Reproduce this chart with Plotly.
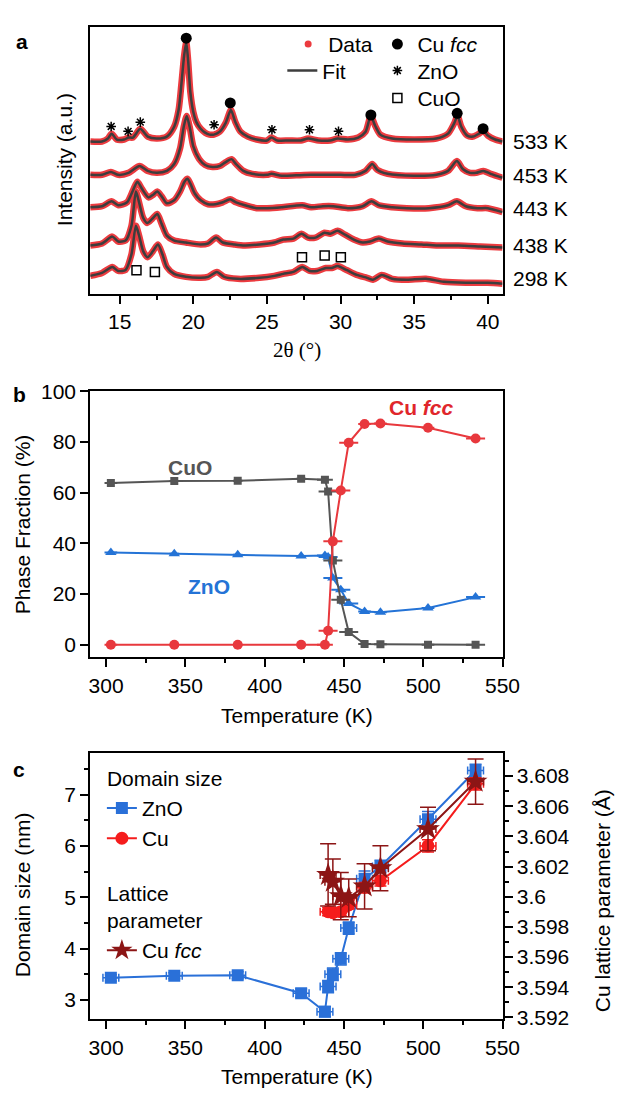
import plotly.graph_objects as go

# ---------------- Panel a : XRD patterns ----------------
# intensity values are in a.u. above each pattern's own baseline
pattern_labels = ["533 K", "453 K", "443 K", "438 K", "298 K"]
pattern_offsets = [155, 120, 87, 49, 15]

tt_533 = [13.0, 13.8, 14.2, 14.45, 14.8, 15.3, 15.6, 15.9, 16.4, 16.9, 17.5, 18.2, 18.7, 19.0, 19.2,
          19.38, 19.52, 19.65, 19.8, 20.0, 20.2, 20.5, 20.8, 21.1, 21.4, 21.8, 22.2, 22.55, 22.85,
          23.2, 23.7, 24.3, 25.0, 25.3, 25.7, 26.5, 27.3, 27.8, 28.5, 29.3, 29.8, 30.5, 31.2, 31.7,
          32.05, 32.35, 32.7, 33.5, 35.0, 36.5, 37.3, 37.7, 37.95, 38.2, 38.6, 39.0, 39.4, 39.7,
          40.0, 40.5, 41.0]
int_533 = [0, 0, 3, 8, 2, 2, 4, 4, 13, 5, 3, 5, 15, 32, 60,
           88, 101, 82, 50, 30, 20, 13, 9, 7, 7, 10, 19, 32, 20,
           10, 5, 2, 1, 4, 1, 1, 1, 3, 1, 1, 3, 2, 4, 10,
           26, 16, 7, 3, 2, 3, 8, 18, 26, 15, 6, 5, 8, 11,
           6, 2, 0]

tt_453 = [13.0, 13.8, 14.4, 14.9, 15.6, 16.35, 16.9, 17.5, 18.2, 18.7, 19.1, 19.35, 19.55, 19.75,
          20.0, 20.4, 20.8, 21.3, 21.8, 22.2, 22.6, 22.9, 23.4, 24.0, 25.0, 25.3, 26.0, 27.0, 28.0,
          29.0, 30.0, 31.0, 31.7, 32.15, 32.5, 33.2, 35.0, 36.5, 37.3, 37.9, 38.3, 38.8, 39.2,
          39.7, 40.2, 41.0]
int_453 = [1, 1, 4, 1, 3, 10, 5, 3, 5, 12, 28, 50, 61, 50,
           30, 17, 11, 9, 10, 14, 17, 12, 5, 2, 1, 2, 0, 0.5, 1,
           1, 1, 1, 5, 12, 6, 2, 0, 1, 5, 15, 7, 3, 3,
           5, 2, -2]

tt_443 = [13.0, 13.8, 14.45, 14.9, 15.5, 15.9, 16.2, 16.5, 16.95, 17.3, 17.55, 17.85, 18.2, 18.7,
          19.1, 19.4, 19.6, 19.8, 20.1, 20.5, 21.0, 21.5, 22.0, 22.5, 22.9, 23.5, 24.3, 25.0, 26.0,
          27.4, 28.0, 28.8, 29.5, 30.5, 31.5, 32.1, 32.6, 33.5, 34.5, 36.0, 37.3, 37.9, 38.5, 39.3,
          40.0, 41.0]
int_443 = [1, 2, 7, 3, 6, 18, 27, 20, 11, 14, 17, 12, 5, 8,
           17, 27, 30, 25, 15, 8, 4, 4, 6, 9, 6, 3, 0, 0, 1,
           3, 1, 2, 2, 0, 2, 7, 3, 1, 0, 0, 3, 7, 2, 0,
           0, -4]

tt_438 = [13.0, 13.8, 14.5, 14.9, 15.4, 15.8, 16.1, 16.3, 16.6, 16.87, 17.2, 17.55, 17.85, 18.2,
          18.7, 19.5, 20.5, 21.0, 21.55, 22.0, 22.8, 23.5, 24.5, 25.5, 26.1, 26.8, 27.35, 27.8,
          28.3, 28.9, 29.3, 29.8, 30.3, 30.9, 31.5, 32.0, 32.6, 33.2, 34.2, 35.5, 36.5, 38.0,
          39.5, 41.0]
int_438 = [0, 2, 9, 4, 5, 20, 55, 45, 28, 23, 27, 32, 22, 10,
           5, 3, 1, 2, 8, 3, 1, 0, 1, 3, 6, 7, 12, 8,
           8, 13, 12, 15, 11, 6, 3, 4, 7, 4, 2, 1, 0, 0,
           -1, -2]

tt_298 = [13.0, 13.8, 14.5, 14.9, 15.4, 15.8, 16.1, 16.3, 16.6, 16.9, 17.25, 17.6, 17.9, 18.2,
          18.7, 19.5, 20.5, 21.0, 21.6, 22.1, 23.0, 24.5, 25.5, 26.1, 26.8, 27.4, 27.9, 28.4,
          29.0, 29.4, 29.8, 30.4, 31.1, 31.8, 32.2, 32.8, 33.5, 34.5, 35.8, 37.0, 38.5, 40.0, 41.0]
int_298 = [3, 6, 12, 8, 9, 25, 54, 45, 28, 22, 28, 35, 25, 12,
           5, 2, 1, 2, 7, 2, 0, 1, 3, 5, 7, 12, 8, 8,
           11, 11, 13, 9, 4, 1, -1, 4, 0, -1, 0, -3, -4, -4, -5]

# phase marks (a.u. above the 533 K baseline for Cu/ZnO, above the 298 K baseline for CuO)
cu_mark_tt = [19.52, 22.51, 32.06, 37.92, 39.68]
cu_mark_int = [105.3, 39.3, 27, 28.7, 13]
zno_mark_tt = [14.42, 15.57, 16.40, 21.41, 25.34, 27.89, 29.86]
zno_mark_int = [15.3, 10.3, 19.7, 17, 12, 12, 10.3]
cuo_mark_tt = [16.14, 17.39, 27.38, 28.92, 30.02]
cuo_mark_int = [8.7, 7, 22, 23.7, 22]

# ---------------- Panel b : phase fractions ----------------
temp_b = [303, 343, 383, 423, 438, 440, 443, 448, 453, 463, 473, 503, 533]
temp_b_err = [4, 3, 3, 3, 5, 6, 6, 6, 6, 4, 4, 4, 6]
cu_fcc_frac = [0, 0, 0, 0, 0, 5.5, 40.8, 60.9, 79.7, 87.1, 87.3, 85.6, 81.4]
cuo_frac = [63.8, 64.6, 64.7, 65.5, 65.1, 60.5, 33.2, 17.8, 5.0, 0.3, 0.2, 0, 0]
zno_frac = [36.4, 35.9, 35.5, 35.0, 35.2, 34.6, 26.3, 21.7, 16.3, 13.1, 12.8, 14.5, 18.8]

# ---------------- Panel c : domain size & lattice parameter ----------------
temp_c_zno = [303, 343, 383, 423, 438, 440, 443, 448, 453, 463, 473, 503, 533]
zno_size = [3.43, 3.47, 3.48, 3.13, 2.77, 3.26, 3.50, 3.80, 4.40, 5.36, 5.60, 6.52, 7.47]
zno_size_err = [0.06, 0.06, 0.07, 0.08, 0.1, 0.12, 0.12, 0.12, 0.12, 0.15, 0.12, 0.15, 0.12]
temp_c_cu = [440, 443, 448, 453, 463, 473, 503, 533]
cu_size = [4.72, 4.70, 4.72, 4.85, 5.19, 5.32, 6.00, 7.21]
cu_size_err = [0.08, 0.08, 0.08, 0.08, 0.1, 0.1, 0.12, 0.12]
cu_latt = [3.60145, 3.6010, 3.60004, 3.59993, 3.60069, 3.60189, 3.60449, 3.60764]
cu_latt_err = [0.00206, 0.0015, 0.00157, 0.00125, 0.0015, 0.0015, 0.00144, 0.0015]
temp_c_err = 5

# ---------------- styling ----------------
FONT = "Liberation Sans, Arial, sans-serif"
FS = 21
RED_DATA = "#ec3b3f"
FIT = "#3d3d3d"
RED_B = "#e8383d"
GREY_B = "#555555"
BLUE_B = "#2473d6"
BLUE_C = "#2a70d8"
RED_C = "#f51c1c"
DARK_RED = "#8c1515"

W, H = 635, 1099
def px_x(p):
    return p / W
def px_y(p):
    return 1 - p / H

fig = go.Figure()

# panel a patterns
patterns = [(tt_533, int_533), (tt_453, int_453), (tt_443, int_443), (tt_438, int_438), (tt_298, int_298)]
for (tt, it), off in zip(patterns, pattern_offsets):
    yy = [v + off for v in it]
    fig.add_trace(go.Scatter(x=tt, y=yy, mode="lines", line=dict(color=RED_DATA, width=6.5, shape="spline", smoothing=0.7),
                             showlegend=False, xaxis="x", yaxis="y", hoverinfo="skip"))
for (tt, it), off in zip(patterns, pattern_offsets):
    yy = [v + off for v in it]
    fig.add_trace(go.Scatter(x=tt, y=yy, mode="lines", line=dict(color=FIT, width=2.5, shape="spline", smoothing=0.7),
                             showlegend=False, xaxis="x", yaxis="y", hoverinfo="skip"))

# legend entries (panel a), one legend per entry for exact placement
fig.add_trace(go.Scatter(x=[None], y=[None], mode="markers", marker=dict(color=RED_DATA, size=7),
                         name="Data", legend="legend", xaxis="x", yaxis="y"))
fig.add_trace(go.Scatter(x=[None], y=[None], mode="lines", line=dict(color=FIT, width=2.5),
                         name="Fit", legend="legend2", xaxis="x", yaxis="y"))

fig.add_trace(go.Scatter(x=cu_mark_tt, y=[v + pattern_offsets[0] for v in cu_mark_int], mode="markers",
                         marker=dict(color="black", size=11, symbol="circle"),
                         name="Cu <i>fcc</i>", legend="legend3", xaxis="x", yaxis="y"))
fig.add_trace(go.Scatter(x=zno_mark_tt, y=[v + pattern_offsets[0] for v in zno_mark_int], mode="markers",
                         marker=dict(color="black", size=8, symbol="asterisk-open", line=dict(color="black", width=1.5)),
                         name="ZnO", legend="legend4", xaxis="x", yaxis="y"))
fig.add_trace(go.Scatter(x=cuo_mark_tt, y=[v + pattern_offsets[4] for v in cuo_mark_int], mode="markers",
                         marker=dict(color="black", size=9, symbol="square-open", line=dict(color="black", width=1.5)),
                         name="CuO", legend="legend5", xaxis="x", yaxis="y"))

# panel b
for vals, col, sym, sz in [(zno_frac, BLUE_B, "triangle-up", 10), (cuo_frac, GREY_B, "square", 8),
                           (cu_fcc_frac, RED_B, "circle", 10)]:
    fig.add_trace(go.Scatter(x=temp_b, y=vals, mode="lines+markers",
                             line=dict(color=col, width=2), marker=dict(color=col, size=sz, symbol=sym),
                             error_x=dict(type="data", array=temp_b_err, color=col, thickness=2, width=0),
                             showlegend=False, xaxis="x2", yaxis="y2"))

# panel c
fig.add_trace(go.Scatter(x=temp_c_zno, y=zno_size, mode="lines+markers", name="ZnO",
                         line=dict(color=BLUE_C, width=2), marker=dict(color=BLUE_C, size=12, symbol="square"),
                         error_y=dict(type="data", array=zno_size_err, color=BLUE_C, thickness=1.5, width=6),
                         error_x=dict(type="constant", value=temp_c_err, color=BLUE_C, thickness=1.5, width=4),
                         legend="legend6", legendgroup="ds", legendgrouptitle=dict(text="Domain size"),
                         xaxis="x3", yaxis="y3"))
fig.add_trace(go.Scatter(x=temp_c_cu, y=cu_size, mode="lines+markers", name="Cu",
                         line=dict(color=RED_C, width=2), marker=dict(color=RED_C, size=13, symbol="circle"),
                         error_y=dict(type="data", array=cu_size_err, color=RED_C, thickness=1.5, width=6),
                         error_x=dict(type="constant", value=temp_c_err, color=RED_C, thickness=1.5, width=4),
                         legend="legend6", legendgroup="ds",
                         xaxis="x3", yaxis="y3"))
fig.add_trace(go.Scatter(x=temp_c_cu, y=cu_latt, mode="lines+markers", name="Cu <i>fcc</i>",
                         line=dict(color=DARK_RED, width=2), marker=dict(color=DARK_RED, size=18, symbol="star"),
                         error_y=dict(type="data", array=cu_latt_err, color=DARK_RED, thickness=1.5, width=8),
                         error_x=dict(type="constant", value=temp_c_err, color=DARK_RED, thickness=1.5, width=4),
                         legend="legend6", legendgroup="lp", legendgrouptitle=dict(text="Lattice<br>parameter"),
                         xaxis="x3", yaxis="y4"))

xdom = [px_x(92), px_x(517)]
axis_common = dict(showline=True, linecolor="black", linewidth=2, ticks="outside",
                   tickcolor="black", tickwidth=2, ticklen=8, showgrid=False, zeroline=False,
                   tickfont=dict(family=FONT, size=FS, color="black"))
minor_x = dict(ticks="outside", ticklen=4, tickwidth=2, tickcolor="black")

def leg(xp, yp):
    return dict(x=px_x(xp), y=px_y(yp), xanchor="left", yanchor="middle", bgcolor="rgba(0,0,0,0)",
                font=dict(family=FONT, size=FS), tracegroupgap=0)

fig.update_layout(
    width=W, height=H, margin=dict(l=0, r=0, t=0, b=0),
    paper_bgcolor="white", plot_bgcolor="white",
    font=dict(family=FONT, size=FS, color="black"),
    xaxis=dict(domain=xdom, range=[13, 41], anchor="y", tick0=15, dtick=5, mirror=True,
               minor=dict(dtick=2.5, tick0=15, **minor_x), **axis_common),
    yaxis=dict(domain=[px_y(287), px_y(15)], range=[0, 272], anchor="x", showline=True, linecolor="black",
               linewidth=2, mirror=True, ticks="", showticklabels=False, showgrid=False, zeroline=False),
    xaxis2=dict(domain=xdom, range=[290, 550], anchor="y2", tick0=300, dtick=50, mirror=True,
                minor=dict(dtick=25, tick0=300, **minor_x), **axis_common),
    yaxis2=dict(domain=[px_y(658), px_y(386.7)], range=[-5, 100], anchor="x2", tick0=0, dtick=20, mirror=True,
                **axis_common),
    xaxis3=dict(domain=xdom, range=[290, 550], anchor="y3", tick0=300, dtick=50, mirror=True,
                minor=dict(dtick=25, tick0=300, **minor_x), **axis_common),
    yaxis3=dict(domain=[px_y(1027), px_y(755)], range=[2.62, 7.82], anchor="x3", tick0=3, dtick=1, mirror=False,
                minor=dict(dtick=0.5, tick0=3, **minor_x), **axis_common),
    yaxis4=dict(overlaying="y3", side="right", anchor="x3", range=[3.59187, 3.60956], tick0=3.592, dtick=0.002,
                mirror=False, minor=dict(dtick=0.001, tick0=3.592, **minor_x), **axis_common),
    legend=leg(296, 33),
    legend2=leg(290, 60),
    legend3=leg(388, 33),
    legend4=leg(388, 60),
    legend5=leg(388, 88),
    legend6=dict(x=px_x(104), y=px_y(760), xanchor="left", yanchor="top", bgcolor="rgba(0,0,0,0)",
                 font=dict(family=FONT, size=FS), grouptitlefont=dict(family=FONT, size=FS),
                 tracegroupgap=24),
)

ann = []
# pattern labels
for lab, off in zip(pattern_labels, pattern_offsets):
    ann.append(dict(text=lab, x=px_x(526), y=off, xref="paper", yref="y", xanchor="left", yanchor="middle",
                    showarrow=False, font=dict(family=FONT, size=FS)))
# axis titles and panel letters
extra = [
    dict(text="Intensity (a.u.)", x=px_x(65), y=px_y(151), textangle=-90),
    dict(text="2θ (°)", x=px_x(305), y=px_y(345), font=dict(family="Liberation Serif, Times New Roman, serif", size=FS)),
    dict(text="Phase Fraction (%)", x=px_x(22), y=px_y(522), textangle=-90),
    dict(text="Temperature (K)", x=px_x(305), y=px_y(717)),
    dict(text="Domain size (nm)", x=px_x(22), y=px_y(900), textangle=-90),
    dict(text="Cu lattice parameter (Å)", x=px_x(620), y=px_y(906), textangle=-90),
    dict(text="Temperature (K)", x=px_x(305), y=px_y(1085)),
    dict(text="<b>a</b>", x=px_x(22), y=px_y(30)),
    dict(text="<b>b</b>", x=px_x(19), y=px_y(390)),
    dict(text="<b>c</b>", x=px_x(19), y=px_y(772)),
]
for a in extra:
    a.update(xref="paper", yref="paper", xanchor="center", yanchor="middle", showarrow=False)
    a.setdefault("font", dict(family=FONT, size=FS))
ann += extra

# panel b series labels
ann += [
    dict(text="<b>Cu <i>fcc</i></b>", x=499, y=93.6, xref="x2", yref="y2", showarrow=False,
         font=dict(family=FONT, size=FS, color="#e0262b")),
    dict(text="<b>CuO</b>", x=353, y=69.9, xref="x2", yref="y2", showarrow=False,
         font=dict(family=FONT, size=FS, color=GREY_B)),
    dict(text="<b>ZnO</b>", x=364.7, y=23, xref="x2", yref="y2", showarrow=False,
         font=dict(family=FONT, size=FS, color=BLUE_B)),
]
fig.update_layout(annotations=ann)

fig.write_html("out.html", config={"displayModeBar": False},
               post_script="document.body.style.margin='0px';")
